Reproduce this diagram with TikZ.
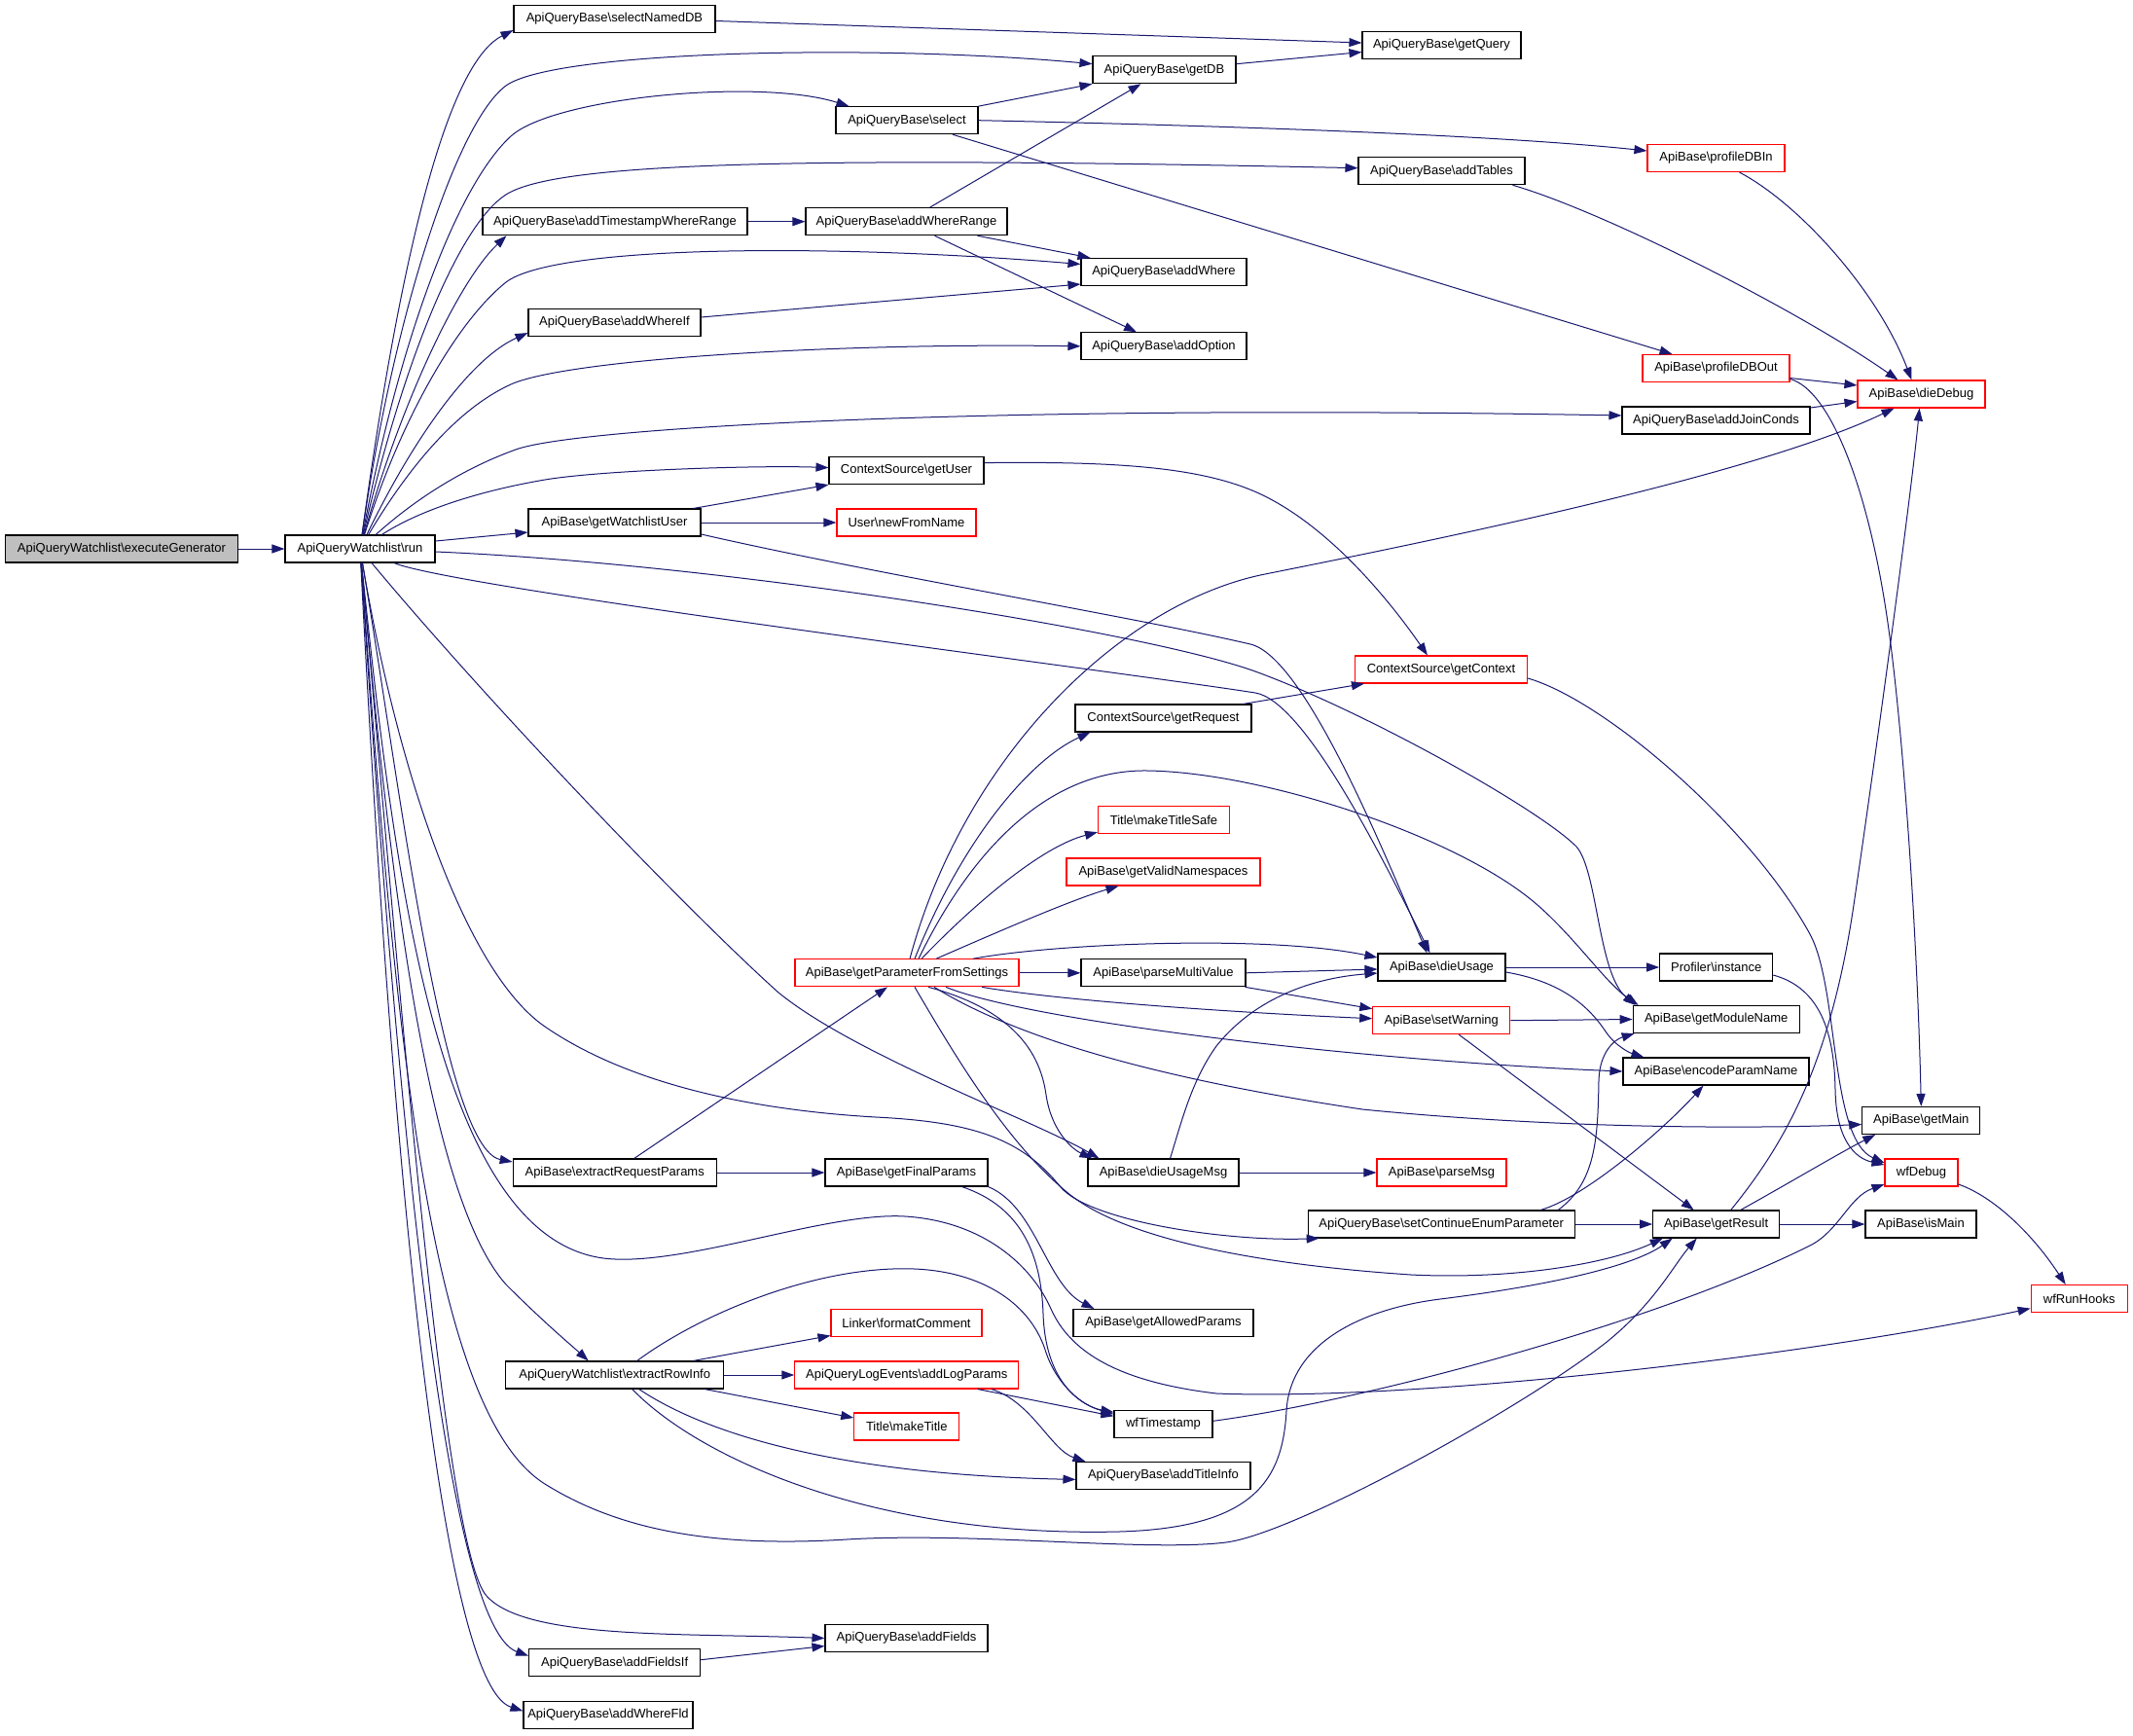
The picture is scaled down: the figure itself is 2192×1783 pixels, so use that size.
\documentclass[tikz,border=0pt]{standalone}
\usepackage{fontspec}
\setmainfont{Liberation Sans}
\usetikzlibrary{arrows.meta}
\definecolor{edgeblue}{HTML}{191970}
\definecolor{grayfill}{HTML}{BFBFBF}
\newcommand{\bks}{\textbackslash}
\begin{document}
\begin{tikzpicture}[x=1pt,y=-1pt,
  nbox/.style={draw=black, line width=1.1pt, fill=white, minimum height=28pt, inner sep=0pt, font=\fontsize{13}{15}\selectfont, text=black},
  rbox/.style={nbox, draw=red},
  gbox/.style={nbox, fill=grayfill},
  edg/.style={draw=edgeblue, line width=1pt, -{Triangle[length=13pt,width=9pt]}}]
\fill[white] (0,0) rectangle (2192,1783);
\useasboundingbox (0,0) rectangle (2192,1783);

% nodes
\node[gbox,minimum width=239pt] (exgen) at (125,564) {ApiQueryWatchlist\bks executeGenerator};
\node[nbox,minimum width=154pt] (run) at (370,564) {ApiQueryWatchlist\bks run};
\node[nbox,minimum width=207pt] (selnamed) at (631.5,19.5) {ApiQueryBase\bks selectNamedDB};
\node[nbox,minimum width=163pt] (getquery) at (1481.5,46.5) {ApiQueryBase\bks getQuery};
\node[nbox,minimum width=147pt] (getdb) at (1196.5,71.7) {ApiQueryBase\bks getDB};
\node[nbox,minimum width=146pt] (select) at (932,123.7) {ApiQueryBase\bks select};
\node[rbox,minimum width=141pt] (pdbin) at (1763.5,162.5) {ApiBase\bks profileDBIn};
\node[nbox,minimum width=171pt] (addtables) at (1481.5,175.7) {ApiQueryBase\bks addTables};
\node[nbox,minimum width=272pt] (addtswr) at (632,227.7) {ApiQueryBase\bks addTimestampWhereRange};
\node[nbox,minimum width=207pt] (addwr) at (931.5,227.7) {ApiQueryBase\bks addWhereRange};
\node[nbox,minimum width=170pt] (addwhere) at (1196,279.5) {ApiQueryBase\bks addWhere};
\node[nbox,minimum width=177pt] (addwhereif) at (631.5,331.5) {ApiQueryBase\bks addWhereIf};
\node[nbox,minimum width=170pt] (addoption) at (1196,355.8) {ApiQueryBase\bks addOption};
\node[rbox,minimum width=151pt] (pdbout) at (1763.5,378.5) {ApiBase\bks profileDBOut};
\node[rbox,minimum width=131pt] (diedebug) at (1974.5,405) {ApiBase\bks dieDebug};
\node[nbox,minimum width=193pt] (addjoin) at (1763.5,432) {ApiQueryBase\bks addJoinConds};
\node[nbox,minimum width=159pt] (getuser) at (931.5,483.6) {ContextSource\bks getUser};
\node[nbox,minimum width=177pt] (getwlu) at (631.5,537) {ApiBase\bks getWatchlistUser};
\node[rbox,minimum width=143pt] (newfromname) at (931.5,537) {User\bks newFromName};
\node[rbox,minimum width=177pt] (getcontext) at (1481,688) {ContextSource\bks getContext};
\node[nbox,minimum width=181pt] (getrequest) at (1195.5,738) {ContextSource\bks getRequest};
\node[rbox,minimum width=135pt] (mktitlesafe) at (1196,842.6) {Title\bks makeTitleSafe};
\node[rbox,minimum width=199pt] (getvalidns) at (1195.5,896) {ApiBase\bks getValidNamespaces};
\node[rbox,minimum width=230pt] (gpfs) at (932,999.8) {ApiBase\bks getParameterFromSettings};
\node[nbox,minimum width=169pt] (parsemv) at (1195.5,999.8) {ApiBase\bks parseMultiValue};
\node[nbox,minimum width=131pt] (dieusage) at (1481.5,994) {ApiBase\bks dieUsage};
\node[nbox,minimum width=116pt] (instance) at (1763.7,994) {Profiler\bks instance};
\node[rbox,minimum width=141pt] (setwarning) at (1481.3,1048.7) {ApiBase\bks setWarning};
\node[nbox,minimum width=171pt] (getmodname) at (1763.7,1047.5) {ApiBase\bks getModuleName};
\node[nbox,minimum width=191pt] (encparam) at (1763.5,1101) {ApiBase\bks encodeParamName};
\node[nbox,minimum width=121pt] (getmain) at (1974.3,1151.5) {ApiBase\bks getMain};
\node[nbox,minimum width=209pt] (extreq) at (631.7,1205) {ApiBase\bks extractRequestParams};
\node[nbox,minimum width=167pt] (getfinal) at (931.5,1205) {ApiBase\bks getFinalParams};
\node[nbox,minimum width=155pt] (dieusagemsg) at (1195.5,1205) {ApiBase\bks dieUsageMsg};
\node[rbox,minimum width=133pt] (parsemsg) at (1481.5,1205) {ApiBase\bks parseMsg};
\node[rbox,minimum width=75pt] (wfdebug) at (1974.5,1205) {wfDebug};
\node[nbox,minimum width=274pt] (setcep) at (1481.2,1258) {ApiQueryBase\bks setContinueEnumParameter};
\node[nbox,minimum width=130pt] (getresult) at (1763.7,1258) {ApiBase\bks getResult};
\node[nbox,minimum width=114pt] (ismain) at (1974,1258) {ApiBase\bks isMain};
\node[rbox,minimum width=99pt] (wfrunhooks) at (2136.7,1334.6) {wfRunHooks};
\node[nbox,minimum width=185pt] (getallowed) at (1195.5,1359.5) {ApiBase\bks getAllowedParams};
\node[rbox,minimum width=155pt] (fmtcomment) at (931.5,1359.5) {Linker\bks formatComment};
\node[nbox,minimum width=224pt] (extrow) at (631.7,1413) {ApiQueryWatchlist\bks extractRowInfo};
\node[rbox,minimum width=230pt] (addlogp) at (931.8,1413) {ApiQueryLogEvents\bks addLogParams};
\node[rbox,minimum width=108pt] (mktitle) at (931.8,1466) {Title\bks makeTitle};
\node[nbox,minimum width=101pt] (wfts) at (1195.5,1463.3) {wfTimestamp};
\node[nbox,minimum width=179pt] (addtitleinfo) at (1195.5,1516.4) {ApiQueryBase\bks addTitleInfo};
\node[nbox,minimum width=167pt] (addfields) at (931.5,1683.5) {ApiQueryBase\bks addFields};
\node[nbox,minimum width=176pt] (addfieldsif) at (631.7,1708.7) {ApiQueryBase\bks addFieldsIf};
\node[nbox,minimum width=174pt] (addwherefld) at (625,1762.3) {ApiQueryBase\bks addWhereFld};

% edges
\draw[edg] (exgen) -- (run);
% run, upward fan
\draw[edg] (run) .. controls (420,200) and (470,60) .. ([yshift=3pt]selnamed.south west);
\draw[edg] (run) .. controls (405,320) and (470,125) .. (520,88) .. controls (570,52) and (900,45) .. ([yshift=6pt]getdb.west);
\draw[edg] (run) .. controls (410,350) and (470,190) .. (525,140) .. controls (569,100) and (780,80) .. ([xshift=14pt]select.north west);
\draw[edg] (run) .. controls (412,380) and (470,232) .. (520,200) .. controls (570,168) and (800,160) .. ([yshift=3pt]addtables.west);
\draw[edg] (run) .. controls (410,420) and (470,290) .. ([xshift=25pt]addtswr.south west);
\draw[edg] (run) .. controls (412,430) and (470,330) .. (520,290) .. controls (570,252) and (850,250) .. ([yshift=8pt]addwhere.west);
\draw[edg] (run) .. controls (420,460) and (480,370) .. ([yshift=4pt]addwhereif.south west);
\draw[edg] (run) .. controls (420,480) and (470,420) .. (525,395) .. controls (580,370) and (850,352) .. (addoption.west);
\draw[edg] (run) .. controls (430,510) and (480,480) .. (530,462) .. controls (590,440) and (1000,415) .. ([yshift=5pt]addjoin.west);
\draw[edg] (run) .. controls (430,525) and (490,505) .. (560,493) .. controls (620,483) and (780,478) .. ([yshift=3pt]getuser.west);
\draw[edg] ([yshift=8pt]run.east) -- ([yshift=-10pt]getwlu.west);
% run, rightward
\draw[edg] ([yshift=-3pt]run.east) .. controls (750,580) and (1180,650) .. (1290,690) .. controls (1400,730) and (1580,830) .. (1620,870) .. controls (1642,895) and (1642,1000) .. ([xshift=3pt]getmodname.north west);
\draw[edg] ([xshift=35pt]run.south) .. controls (470,605) and (1150,690) .. (1290,712) .. controls (1340,720) and (1420,880) .. ([xshift=-12pt]dieusage.north);
\draw[edg] ([yshift=-12pt]getwlu.east) .. controls (900,590) and (1170,635) .. (1285,662) .. controls (1340,675) and (1420,870) .. ([xshift=-15pt]dieusage.north);
\draw[edg] ([xshift=12pt]run.south) .. controls (500,720) and (700,930) .. (800,1020) .. controls (880,1085) and (1060,1150) .. ([xshift=12pt]dieusagemsg.north west);
% run, downward
\draw[edg] (run) .. controls (410,800) and (480,1000) .. (560,1055) .. controls (640,1110) and (760,1140) .. (900,1148) .. controls (1000,1153) and (1050,1170) .. (1090,1220) .. controls (1120,1255) and (1260,1276) .. ([xshift=12pt]setcep.south west);
\draw[edg] (run) .. controls (410,800) and (455,1180) .. ([yshift=11pt]extreq.west);
\draw[edg] (run) .. controls (400,900) and (440,1230) .. (520,1320) .. controls (560,1360) and (590,1385) .. ([xshift=-27pt]extrow.north);
\draw[edg] (run) .. controls (405,900) and (450,1270) .. (620,1293) .. controls (700,1303) and (850,1245) .. (930,1250) .. controls (1010,1255) and (1060,1300) .. (1080,1345) .. controls (1100,1390) and (1150,1420) .. (1250,1432) .. controls (1450,1440) and (1850,1395) .. ([yshift=-10pt]wfrunhooks.west);
\draw[edg] (run) .. controls (405,1050) and (440,1450) .. (560,1525) .. controls (640,1575) and (740,1590) .. (870,1582) .. controls (1000,1574) and (1180,1595) .. (1260,1585) .. controls (1330,1576) and (1560,1450) .. (1650,1380) .. controls (1700,1340) and (1720,1300) .. ([xshift=-20pt]getresult.south);
\draw[edg] (run) .. controls (410,1000) and (455,1590) .. (500,1640) .. controls (540,1685) and (700,1678) .. (addfields.west);
\draw[edg] (run) .. controls (405,1100) and (455,1670) .. ([yshift=7pt]addfieldsif.west);
\draw[edg] (run) .. controls (400,1150) and (450,1730) .. ([yshift=4pt]addwherefld.west);

% upper part
\draw[edg] ([yshift=-2pt]selnamed.east) -- ([yshift=2.5pt]getquery.west);
\draw[edg] ([yshift=6pt]getdb.east) -- ([yshift=-7pt]getquery.west);
\draw[edg] (select.north east) -- (getdb.south west);
\draw[edg] (select.east) .. controls (1300,130) and (1550,140) .. ([yshift=7.5pt]pdbin.west);
\draw[edg] ([xshift=47pt]select.south) -- ([xshift=-45pt]pdbout.north);
\draw[edg] ([xshift=24pt]addwr.north) -- ([xshift=-24pt]getdb.south);
\draw[edg] ([xshift=73pt]addwr.south) -- ([xshift=10pt]addwhere.north west);
\draw[edg] ([xshift=29pt]addwr.south) -- ([xshift=-28pt]addoption.north);
\draw[edg] (addtswr) -- (addwr);
\draw[edg] ([yshift=5.5pt]addwhereif.east) -- ([yshift=-12.5pt]addwhere.west);
\draw[edg] ([xshift=73pt]addtables.south) .. controls (1650,218) and (1850,320) .. ([xshift=-24pt]diedebug.north);
\draw[edg] ([xshift=24pt]pdbin.south) .. controls (1850,210) and (1930,300) .. ([xshift=-10pt]diedebug.north);
\draw[edg] ([yshift=-10pt]pdbout.east) -- ([yshift=9pt]diedebug.west);
\draw[edg] ([yshift=13pt]addjoin.east) -- ([yshift=-7.5pt]diedebug.west);
\draw[edg] ([yshift=-11pt]pdbout.east) .. controls (1880,400) and (1920,500) .. (1940,640) .. controls (1955,745) and (1970,950) .. (getmain.north);
\draw[edg] ([xshift=15pt]getresult.north) .. controls (1830,1180) and (1880,1100) .. (1905,930) .. controls (1930,760) and (1965,500) .. ([xshift=-2pt]diedebug.south);
\draw[edg] ([xshift=25pt]getresult.north) .. controls (1840,1215) and (1890,1185) .. ([xshift=14pt]getmain.south west);
\draw[edg] (getresult) -- (ismain);
\draw[edg] (setcep) -- (getresult);
\draw[edg] ([xshift=120pt]setcep.north) .. controls (1640,1215) and (1642,1170) .. (1643,1110) .. controls (1644,1080) and (1660,1068) .. ([xshift=2pt]getmodname.south west);
\draw[edg] ([xshift=102pt]setcep.north) .. controls (1630,1230) and (1710,1160) .. ([xshift=-13pt]encparam.south);
\draw[edg] (setwarning.east) -- (getmodname.west);
\draw[edg] ([xshift=18pt]setwarning.south) -- ([xshift=-23pt]getresult.north);
\draw[edg] (dieusage) -- (instance);
\draw[edg] ([yshift=-5pt]dieusage.east) .. controls (1600,1008) and (1630,1030) .. (1650,1060) .. controls (1660,1075) and (1675,1082) .. ([xshift=22pt]encparam.north west);
\draw[edg] ([yshift=-8pt]instance.east) .. controls (1870,1015) and (1885,1060) .. (1886,1120) .. controls (1887,1170) and (1905,1190) .. ([yshift=8pt]wfdebug.west);
\draw[edg] ([yshift=-9pt]getcontext.east) .. controls (1650,720) and (1800,850) .. (1860,960) .. controls (1890,1015) and (1880,1170) .. ([yshift=10pt]wfdebug.west);
\draw[edg] ([yshift=8pt]getuser.east) .. controls (1150,474) and (1240,480) .. (1300,510) .. controls (1370,545) and (1430,620) .. ([xshift=-14pt]getcontext.north);
\draw[edg] ([xshift=82pt]getrequest.north) -- ([xshift=10pt]getcontext.south west);
\draw[edg] (getwlu) -- (newfromname);
\draw[edg] ([xshift=-8pt]getwlu.north east) -- (getuser.south west);

% getParameterFromSettings
\draw[edg] ([xshift=3pt]gpfs.north) .. controls (990,780) and (1150,620) .. (1300,590) .. controls (1450,560) and (1800,490) .. ([xshift=-28pt]diedebug.south);
\draw[edg] ([xshift=8pt]gpfs.north) .. controls (990,860) and (1060,780) .. ([xshift=16pt]getrequest.south west);
\draw[edg] ([xshift=12pt]gpfs.north) .. controls (1000,870) and (1080,790) .. (1180,792) .. controls (1300,794) and (1500,860) .. (1580,930) .. controls (1620,965) and (1650,1010) .. ([xshift=6pt]getmodname.north west);
\draw[edg] ([xshift=15pt]gpfs.north) .. controls (1000,930) and (1070,870) .. ([yshift=2pt]mktitlesafe.south west);
\draw[edg] ([xshift=30pt]gpfs.north) .. controls (1020,960) and (1100,925) .. ([xshift=-46pt]getvalidns.south);
\draw[edg] ([xshift=68pt]gpfs.north) .. controls (1080,970) and (1300,960) .. ([yshift=10pt]dieusage.west);
\draw[edg] (gpfs) -- (parsemv);
\draw[edg] ([xshift=77pt]gpfs.south) .. controls (1100,1030) and (1300,1042) .. ([yshift=2pt]setwarning.west);
\draw[edg] ([xshift=40pt]gpfs.south) .. controls (1060,1050) and (1400,1090) .. (encparam.west);
\draw[edg] ([xshift=28pt]gpfs.south) .. controls (1050,1070) and (1200,1110) .. (1400,1140) .. controls (1600,1160) and (1800,1160) .. ([yshift=-4pt]getmain.west);
\draw[edg] ([xshift=22pt]gpfs.south) .. controls (1050,1040) and (1070,1090) .. (1075,1125) .. controls (1080,1160) and (1100,1180) .. ([xshift=5pt]dieusagemsg.north west);
\draw[edg] ([xshift=8pt]gpfs.south) .. controls (990,1100) and (1040,1180) .. (1100,1228) .. controls (1160,1275) and (1300,1300) .. (1450,1310) .. controls (1550,1315) and (1650,1300) .. ([xshift=-55pt]getresult.south);

\draw[edg] (parsemv.east) -- ([yshift=-2pt]dieusage.west);
\draw[edg] ([xshift=84pt]parsemv.south) -- ([yshift=12pt]setwarning.west);
\draw[edg] ([xshift=7pt]dieusagemsg.north) .. controls (1215,1150) and (1225,1110) .. (1250,1075) .. controls (1290,1025) and (1350,1005) .. ([yshift=-6pt]dieusage.west);
\draw[edg] (dieusagemsg) -- (parsemsg);

% lower part
\draw[edg] ([xshift=20pt]extreq.north) -- ([xshift=-20pt]gpfs.south);
\draw[edg] (extreq) -- (getfinal);
\draw[edg] (getfinal.south east) .. controls (1065,1240) and (1075,1320) .. ([xshift=22pt]getallowed.north west);
\draw[edg] ([xshift=57pt]getfinal.south) .. controls (1050,1240) and (1070,1290) .. (1072,1350) .. controls (1074,1410) and (1100,1440) .. ([yshift=10pt]wfts.west);
\draw[edg] ([xshift=73pt]addlogp.south) -- ([yshift=8pt]wfts.west);
\draw[edg] ([xshift=87pt]addlogp.south) .. controls (1060,1440) and (1080,1490) .. ([xshift=10pt]addtitleinfo.north west);
\draw[edg] ([xshift=-32pt]extrow.north east) -- ([yshift=-13pt]fmtcomment.west);
\draw[edg] (extrow) -- (addlogp);
\draw[edg] ([xshift=-20pt]extrow.south east) -- ([yshift=9pt]mktitle.west);
\draw[edg] ([xshift=23pt]extrow.north) .. controls (720,1350) and (840,1300) .. (940,1304) .. controls (1010,1307) and (1060,1340) .. (1075,1390) .. controls (1085,1420) and (1110,1445) .. ([yshift=12pt]wfts.west);
\draw[edg] ([xshift=25pt]extrow.south) .. controls (720,1470) and (850,1515) .. ([yshift=-4pt]addtitleinfo.west);
\draw[edg] ([xshift=18pt]extrow.south) .. controls (720,1500) and (900,1580) .. (1150,1574) .. controls (1290,1570) and (1318,1520) .. (1322,1450) .. controls (1326,1380) and (1400,1345) .. (1480,1335) .. controls (1600,1320) and (1680,1300) .. ([xshift=-45pt]getresult.south);
\draw[edg] ([yshift=3pt]wfts.east) .. controls (1400,1440) and (1700,1360) .. (1860,1280) .. controls (1890,1265) and (1900,1230) .. ([yshift=-12pt]wfdebug.west);
\draw[edg] ([yshift=-12pt]wfdebug.east) .. controls (2050,1230) and (2090,1270) .. ([xshift=-14pt]wfrunhooks.north);
\draw[edg] ([yshift=3pt]addfieldsif.east) -- ([yshift=-8pt]addfields.west);
\end{tikzpicture}
\end{document}
